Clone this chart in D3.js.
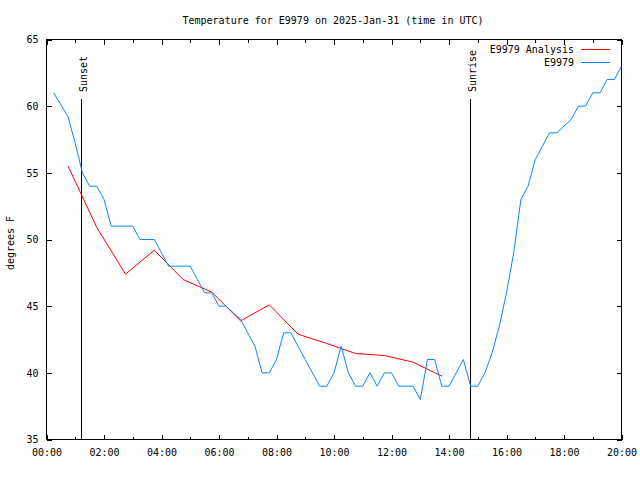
<!DOCTYPE html>
<html><head><meta charset="utf-8">
<script src="https://cdn.jsdelivr.net/npm/d3@7"></script>
<style>
body{margin:0;background:#fff}
svg text{font-family:"DejaVu Sans Mono","Liberation Mono",monospace;font-size:10px;fill:#000}
</style>
</head><body>
<svg id="chart" width="640" height="480"></svg>
<script>
const chartTitle = "Temperature for E9979 on 2025-Jan-31 (time in UTC)";
const yLabel = "degrees F";
const day = "2025-01-31";
const xDomain = ["00:00", "20:00"];
const yDomain = [35, 65];
const yTicks = [35, 40, 45, 50, 55, 60, 65];

const seriesNames = ["E9979 Analysis", "E9979"];
const seriesColors = ["#ff0000", "#0c87ff"];

const anaTimes = ["00:45","01:45","02:45","03:45","04:45","05:45","06:45","07:45","08:45","09:45","10:45","11:45","12:45","13:45"];
const anaTemps = [55.5, 50.9, 47.4, 49.2, 47.0, 46.05, 43.9, 45.1, 42.9, 42.2, 41.45, 41.3, 40.8, 39.75];

const obsTimes = ["00:15","00:30","00:45","01:00","01:15","01:30","01:45","02:00","02:15","02:30","02:45","03:00",
  "03:15","03:30","03:45","04:00","04:15","04:30","04:45","05:00","05:15","05:30","05:45","06:00",
  "06:15","06:30","06:45","07:00","07:15","07:30","07:45","08:00","08:15","08:30","08:45","09:00",
  "09:15","09:30","09:45","10:00","10:15","10:30","10:45","11:00","11:15","11:30","11:45","12:00",
  "12:15","12:30","12:45","13:00","13:15","13:30","13:45","14:00","14:15","14:30","14:45","15:00",
  "15:15","15:30","15:45","16:00","16:15","16:30","16:45","17:00","17:15","17:30","17:45","18:00",
  "18:15","18:30","18:45","19:00","19:15","19:30","19:45","20:00"];
const obsTemps = [61, 60.1, 59.2, 57.2, 55, 54, 54, 53, 51, 51, 51, 51,
  50, 50, 50, 49, 48, 48, 48, 48, 47, 46, 46, 45,
  45, 44.5, 44, 43, 42, 40, 40, 41, 43, 43, 42, 41,
  40, 39, 39, 40, 42, 40, 39, 39, 40, 39, 40, 40,
  39, 39, 39, 38, 41, 41, 39, 39, 40, 41, 39, 39,
  40, 41.5, 43.5, 46, 49, 53, 54, 56, 57, 58, 58, 58.5,
  59, 60, 60, 61, 61, 62, 62, 63];

const eventNames = ["Sunset", "Sunrise"];
const eventTimes = ["01:13", "14:44"];

const parse = d3.utcParse("%Y-%m-%d %H:%M");
const T = s => parse(day + " " + s);

const L = 46.5, R = 621.5, TOP = 39.5, B = 439.5;
const svg = d3.select("#chart");
const x = d3.scaleUtc().domain(xDomain.map(T)).range([L, R]);
const y = d3.scaleLinear().domain(yDomain).range([B, TOP]);

// title
svg.append("text").attr("x", 333).attr("y", 24).attr("text-anchor", "middle").text(chartTitle);
// y label
svg.append("text").attr("transform", "translate(14,243) rotate(-90)").attr("text-anchor", "middle").text(yLabel);

const majorX = d3.utcHour.every(2).range(T("00:00"), d3.utcMinute.offset(T("20:00"), 1));
const minorX = d3.utcHour.every(1).range(T("00:00"), d3.utcMinute.offset(T("20:00"), 1)).filter(d => d.getUTCHours() % 2 === 1);
const fmt = d3.utcFormat("%H:%M");

function styleAxis(g){ g.select(".domain").remove(); g.selectAll("line").attr("stroke","#000").attr("shape-rendering","crispEdges"); g.attr("font-size", null).attr("font-family", null); }

svg.append("g").attr("transform", `translate(0,${B})`)
  .call(d3.axisBottom(x).tickValues(majorX).tickFormat(fmt).tickSize(-5).tickPadding(9)).call(styleAxis);
svg.append("g").attr("transform", `translate(0,${B})`)
  .call(d3.axisBottom(x).tickValues(minorX).tickFormat("").tickSize(-3)).call(styleAxis);
svg.append("g").attr("transform", `translate(0,${TOP})`)
  .call(d3.axisTop(x).tickValues(majorX).tickFormat("").tickSize(-5)).call(styleAxis);
svg.append("g").attr("transform", `translate(0,${TOP})`)
  .call(d3.axisTop(x).tickValues(minorX).tickFormat("").tickSize(-3)).call(styleAxis);
svg.append("g").attr("transform", `translate(${L},0)`)
  .call(d3.axisLeft(y).tickValues(yTicks).tickFormat(d3.format("d")).tickSize(-5).tickPadding(8)).call(styleAxis);
svg.append("g").attr("transform", `translate(${R},0)`)
  .call(d3.axisRight(y).tickValues(yTicks).tickFormat("").tickSize(-5)).call(styleAxis);

// border
svg.append("rect").attr("x", L).attr("y", TOP).attr("width", R - L).attr("height", B - TOP)
  .attr("fill", "none").attr("stroke", "#000").attr("shape-rendering", "crispEdges");

// sunset / sunrise
eventNames.forEach((name, i) => {
  const ex = Math.round(x(T(eventTimes[i]))) + 0.5;
  svg.append("line").attr("x1", ex).attr("x2", ex).attr("y1", 99).attr("y2", B)
    .attr("stroke", "#000").attr("shape-rendering", "crispEdges");
  svg.append("text").attr("transform", `translate(${ex + 5},92) rotate(-90)`).attr("text-anchor", "start").text(name);
});

const line = d3.line().x(d => x(d[0])).y(d => y(d[1]));
const anaData = anaTimes.map((t, i) => [T(t), anaTemps[i]]);
const obsData = obsTimes.map((t, i) => [T(t), obsTemps[i]]);
svg.append("path").datum(anaData).attr("d", line).attr("fill", "none").attr("stroke", seriesColors[0]).attr("stroke-width", 1);
svg.append("path").datum(obsData).attr("d", line).attr("fill", "none").attr("stroke", seriesColors[1]).attr("stroke-width", 1);

// legend
seriesNames.forEach((n, i) => {
  const ly = 49.5 + i * 13;
  svg.append("text").attr("x", 574).attr("y", ly).attr("dy", "0.35em").attr("text-anchor", "end").text(n);
  svg.append("line").attr("x1", 581).attr("x2", 610).attr("y1", ly).attr("y2", ly)
    .attr("stroke", seriesColors[i]).attr("shape-rendering", "crispEdges");
});
</script>
</body></html>
